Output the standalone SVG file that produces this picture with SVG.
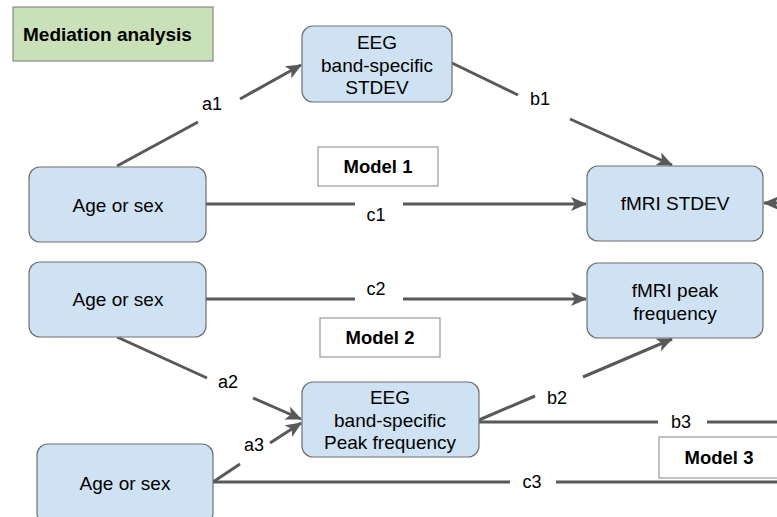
<svg xmlns="http://www.w3.org/2000/svg" width="777" height="517" viewBox="0 0 777 517">
<style>
.node{fill:#cfe2f3;stroke:#707070;stroke-width:1.2}
.model{fill:#ffffff;stroke:#999999;stroke-width:1.2}
.t{font-family:"Liberation Sans",Arial,sans-serif;font-size:19px;fill:#000;text-anchor:middle}
.l{font-family:"Liberation Sans",Arial,sans-serif;font-size:18px;fill:#000;text-anchor:middle}
.b{font-family:"Liberation Sans",Arial,sans-serif;font-size:18.5px;font-weight:bold;fill:#000;text-anchor:middle}
.e{fill:none;stroke:#595959;stroke-width:3}
.ea{fill:none;stroke:#595959;stroke-width:3;marker-end:url(#arr)}
</style>
<defs>
<marker id="arr" markerUnits="userSpaceOnUse" markerWidth="18" markerHeight="16" refX="15" refY="7" orient="auto">
<path d="M0,0 L16,7 L0,14 L4,7 Z" fill="#595959"/>
</marker>
</defs>
<rect x="0" y="0" width="777" height="517" fill="#ffffff"/>

<g id="title">
<rect x="13" y="7" width="200" height="54" fill="#c9e0b8" stroke="#888888" stroke-width="1.2"/>
<text x="23" y="41" class="b" style="text-anchor:start;font-size:19px">Mediation analysis</text>
</g>

<g id="connectors">
<line class="e" x1="117" y1="166" x2="198" y2="122"/>
<line class="ea" x1="240" y1="99" x2="301" y2="65"/>
<text class="l" x="212" y="110">a1</text>

<line class="e" x1="452" y1="63" x2="518" y2="95"/>
<line class="ea" x1="570" y1="119" x2="672" y2="165"/>
<text class="l" x="540" y="105">b1</text>

<line class="e" x1="206" y1="204" x2="355" y2="204"/>
<line class="ea" x1="403" y1="204" x2="586" y2="204"/>
<text class="l" x="376" y="221">c1</text>

<line class="e" x1="206" y1="299" x2="355" y2="299"/>
<line class="ea" x1="403" y1="299" x2="586" y2="299"/>
<text class="l" x="376" y="295">c2</text>

<line class="e" x1="117" y1="337" x2="207" y2="378"/>
<line class="ea" x1="253" y1="398" x2="301" y2="419"/>
<text class="l" x="228" y="388">a2</text>

<line class="e" x1="213" y1="482" x2="240" y2="464"/>
<line class="ea" x1="270" y1="443" x2="301" y2="423"/>
<text class="l" x="254" y="451">a3</text>

<line class="e" x1="479" y1="420" x2="535" y2="396"/>
<line class="ea" x1="583" y1="377" x2="672" y2="339"/>
<text class="l" x="557" y="404">b2</text>

<line class="e" x1="479" y1="422" x2="658" y2="422"/>
<line class="e" x1="707" y1="422" x2="777" y2="422"/>
<text class="l" x="681" y="428">b3</text>

<line class="e" x1="213" y1="482" x2="510" y2="482"/>
<line class="e" x1="556" y1="482" x2="777" y2="482"/>
<text class="l" x="532" y="488">c3</text>

<line class="ea" x1="790" y1="203" x2="764" y2="203"/>
</g>

<g id="eeg_stdev">
<rect class="node" x="302" y="26" width="150" height="76" rx="11"/>
<text class="t" x="377" y="49">EEG</text>
<text class="t" x="377" y="72">band-specific</text>
<text class="t" x="377" y="94">STDEV</text>
</g>

<g id="age1">
<rect class="node" x="29" y="167" width="177" height="75" rx="11"/>
<text class="t" x="118" y="212">Age or sex</text>
</g>

<g id="fmri_stdev">
<rect class="node" x="587" y="166" width="176" height="75" rx="11"/>
<text class="t" x="675" y="210">fMRI STDEV</text>
</g>

<g id="model1">
<rect class="model" x="318" y="147" width="120" height="39"/>
<text class="b" x="378" y="173">Model 1</text>
</g>

<g id="age2">
<rect class="node" x="29" y="262" width="177" height="75" rx="11"/>
<text class="t" x="118" y="306">Age or sex</text>
</g>

<g id="fmri_peak">
<rect class="node" x="587" y="263" width="176" height="75" rx="11"/>
<text class="t" x="675" y="297">fMRI peak</text>
<text class="t" x="675" y="320">frequency</text>
</g>

<g id="model2">
<rect class="model" x="320" y="318" width="120" height="39"/>
<text class="b" x="380" y="344">Model 2</text>
</g>

<g id="eeg_peak">
<rect class="node" x="302" y="382" width="177" height="75" rx="11"/>
<text class="t" x="390" y="404">EEG</text>
<text class="t" x="390" y="427">band-specific</text>
<text class="t" x="390" y="449">Peak frequency</text>
</g>

<g id="model3">
<rect class="model" x="659" y="437" width="130" height="41"/>
<text class="b" x="719" y="464">Model 3</text>
</g>

<g id="age3">
<rect class="node" x="37" y="444" width="176" height="80" rx="11"/>
<text class="t" x="125" y="490">Age or sex</text>
</g>
</svg>
